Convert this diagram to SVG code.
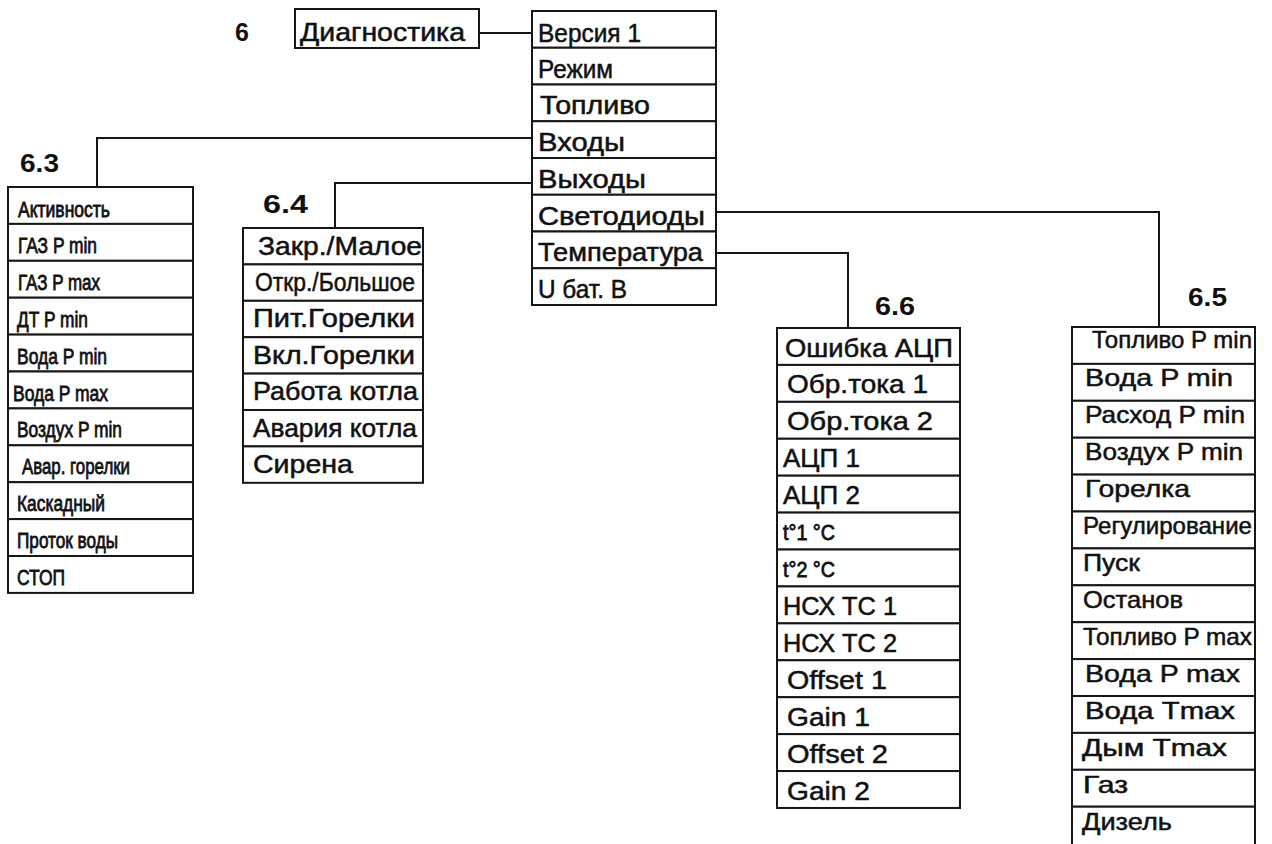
<svg xmlns="http://www.w3.org/2000/svg" width="1272" height="844" viewBox="0 0 1272 844">
<style>
.bg{fill:#fff}
.r{fill:#fff;stroke:#161616;stroke-width:2}
.c{fill:none;stroke:#161616;stroke-width:2}
text{font-family:"Liberation Sans",Arial,sans-serif;fill:#111;stroke:#111;stroke-width:0.5}
.m{font-size:25px}
.n{font-size:22px;stroke-width:0.8}
.s{font-size:24px}
.lbl{font-size:25px;font-weight:bold;stroke:none}
</style>
<rect class="bg" x="0" y="0" width="1272" height="844"/>

<g id="connectors">
<path class="c" d="M479,33 H532"/>
<path class="c" d="M532,138 H97 V187"/>
<path class="c" d="M532,183 H335 V228"/>
<path class="c" d="M716,212 H1159 V327"/>
<path class="c" d="M716,253 H848 V328"/>
</g>

<g id="label-6"><text class="lbl" x="235" y="41">6</text></g>
<g id="label-6.3"><text class="lbl" x="20" y="172" textLength="39" lengthAdjust="spacingAndGlyphs">6.3</text></g>
<g id="label-6.4"><text class="lbl" x="263" y="213" textLength="45" lengthAdjust="spacingAndGlyphs">6.4</text></g>
<g id="label-6.6"><text class="lbl" x="875" y="315" textLength="40" lengthAdjust="spacingAndGlyphs">6.6</text></g>
<g id="label-6.5"><text class="lbl" x="1188" y="306" textLength="39" lengthAdjust="spacingAndGlyphs">6.5</text></g>

<g id="node-diag">
<rect class="r" x="295" y="9" width="184" height="39"/>
<text class="m" x="300" y="41" textLength="165" lengthAdjust="spacingAndGlyphs">Диагностика</text>
</g>

<g id="node-main">
<rect class="r" x="532" y="11" width="184" height="36.75"/>
<rect class="r" x="532" y="47.75" width="184" height="36.75"/>
<rect class="r" x="532" y="84.5" width="184" height="36.75"/>
<rect class="r" x="532" y="121.25" width="184" height="36.75"/>
<rect class="r" x="532" y="158" width="184" height="36.75"/>
<rect class="r" x="532" y="194.75" width="184" height="36.75"/>
<rect class="r" x="532" y="231.5" width="184" height="36.75"/>
<rect class="r" x="532" y="268.25" width="184" height="36.75"/>
<text class="m" x="538" y="42" textLength="103" lengthAdjust="spacingAndGlyphs">Версия 1</text>
<text class="m" x="538" y="77.5" textLength="75" lengthAdjust="spacingAndGlyphs">Режим</text>
<text class="m" x="540" y="114" textLength="110" lengthAdjust="spacingAndGlyphs">Топливо</text>
<text class="m" x="538" y="151" textLength="87" lengthAdjust="spacingAndGlyphs">Входы</text>
<text class="m" x="538" y="188" textLength="108" lengthAdjust="spacingAndGlyphs">Выходы</text>
<text class="m" x="538" y="224.5" textLength="167" lengthAdjust="spacingAndGlyphs">Светодиоды</text>
<text class="m" x="538" y="261" textLength="165" lengthAdjust="spacingAndGlyphs">Температура</text>
<text class="m" x="538" y="298" textLength="89" lengthAdjust="spacingAndGlyphs">U бат. В</text>
</g>

<g id="node-6.3">
<rect class="r" x="8" y="187" width="185" height="36.9"/>
<rect class="r" x="8" y="223.9" width="185" height="36.9"/>
<rect class="r" x="8" y="260.8" width="185" height="36.9"/>
<rect class="r" x="8" y="297.7" width="185" height="36.9"/>
<rect class="r" x="8" y="334.6" width="185" height="36.9"/>
<rect class="r" x="8" y="371.5" width="185" height="36.9"/>
<rect class="r" x="8" y="408.4" width="185" height="36.9"/>
<rect class="r" x="8" y="445.3" width="185" height="36.9"/>
<rect class="r" x="8" y="482.2" width="185" height="36.9"/>
<rect class="r" x="8" y="519.1" width="185" height="36.9"/>
<rect class="r" x="8" y="556" width="185" height="36.9"/>
<text class="n" x="18" y="217" textLength="92" lengthAdjust="spacingAndGlyphs">Активность</text>
<text class="n" x="18" y="253" textLength="79" lengthAdjust="spacingAndGlyphs">ГАЗ P min</text>
<text class="n" x="18" y="290" textLength="82" lengthAdjust="spacingAndGlyphs">ГАЗ P max</text>
<text class="n" x="17" y="327" textLength="71" lengthAdjust="spacingAndGlyphs">ДТ P min</text>
<text class="n" x="17" y="364" textLength="90" lengthAdjust="spacingAndGlyphs">Вода P min</text>
<text class="n" x="13" y="401" textLength="95" lengthAdjust="spacingAndGlyphs">Вода P max</text>
<text class="n" x="17" y="437" textLength="105" lengthAdjust="spacingAndGlyphs">Воздух P min</text>
<text class="n" x="22" y="474" textLength="108" lengthAdjust="spacingAndGlyphs">Авар. горелки</text>
<text class="n" x="17" y="511" textLength="88" lengthAdjust="spacingAndGlyphs">Каскадный</text>
<text class="n" x="17" y="548" textLength="101" lengthAdjust="spacingAndGlyphs">Проток воды</text>
<text class="n" x="17" y="585" textLength="48" lengthAdjust="spacingAndGlyphs">СТОП</text>
</g>

<g id="node-6.4">
<rect class="r" x="243" y="228" width="180" height="36.4"/>
<rect class="r" x="243" y="264.4" width="180" height="36.4"/>
<rect class="r" x="243" y="300.8" width="180" height="36.4"/>
<rect class="r" x="243" y="337.2" width="180" height="36.4"/>
<rect class="r" x="243" y="373.6" width="180" height="36.4"/>
<rect class="r" x="243" y="410" width="180" height="36.4"/>
<rect class="r" x="243" y="446.4" width="180" height="36.4"/>
<text class="m" x="258" y="255" textLength="164" lengthAdjust="spacingAndGlyphs">Закр./Малое</text>
<text class="m" x="255" y="291" textLength="160" lengthAdjust="spacingAndGlyphs">Откр./Большое</text>
<text class="m" x="253" y="327" textLength="162" lengthAdjust="spacingAndGlyphs">Пит.Горелки</text>
<text class="m" x="253" y="364" textLength="162" lengthAdjust="spacingAndGlyphs">Вкл.Горелки</text>
<text class="m" x="253" y="400" textLength="165" lengthAdjust="spacingAndGlyphs">Работа котла</text>
<text class="m" x="253" y="437" textLength="164" lengthAdjust="spacingAndGlyphs">Авария котла</text>
<text class="m" x="253" y="473" textLength="100" lengthAdjust="spacingAndGlyphs">Сирена</text>
</g>

<g id="node-6.6">
<rect class="r" x="777" y="328" width="183" height="36.92"/>
<rect class="r" x="777" y="364.92" width="183" height="36.92"/>
<rect class="r" x="777" y="401.84" width="183" height="36.92"/>
<rect class="r" x="777" y="438.76" width="183" height="36.92"/>
<rect class="r" x="777" y="475.68" width="183" height="36.92"/>
<rect class="r" x="777" y="512.6" width="183" height="36.92"/>
<rect class="r" x="777" y="549.52" width="183" height="36.92"/>
<rect class="r" x="777" y="586.44" width="183" height="36.92"/>
<rect class="r" x="777" y="623.36" width="183" height="36.92"/>
<rect class="r" x="777" y="660.28" width="183" height="36.92"/>
<rect class="r" x="777" y="697.2" width="183" height="36.92"/>
<rect class="r" x="777" y="734.12" width="183" height="36.92"/>
<rect class="r" x="777" y="771.04" width="183" height="36.92"/>
<text class="m" x="785" y="357" textLength="168" lengthAdjust="spacingAndGlyphs">Ошибка АЦП</text>
<text class="m" x="787" y="393" textLength="141" lengthAdjust="spacingAndGlyphs">Обр.тока 1</text>
<text class="m" x="787" y="430" textLength="146" lengthAdjust="spacingAndGlyphs">Обр.тока 2</text>
<text class="m" x="783" y="467" textLength="77" lengthAdjust="spacingAndGlyphs">АЦП 1</text>
<text class="m" x="783" y="504" textLength="77" lengthAdjust="spacingAndGlyphs">АЦП 2</text>
<text class="n" x="783" y="540" textLength="52" lengthAdjust="spacingAndGlyphs">t°1 °C</text>
<text class="n" x="783" y="577" textLength="52" lengthAdjust="spacingAndGlyphs">t°2 °C</text>
<text class="m" x="783" y="615" textLength="114" lengthAdjust="spacingAndGlyphs">НСХ ТС 1</text>
<text class="m" x="783" y="652" textLength="114" lengthAdjust="spacingAndGlyphs">НСХ ТС 2</text>
<text class="m" x="787" y="689" textLength="100" lengthAdjust="spacingAndGlyphs">Offset 1</text>
<text class="m" x="787" y="726" textLength="83" lengthAdjust="spacingAndGlyphs">Gain 1</text>
<text class="m" x="787" y="763" textLength="101" lengthAdjust="spacingAndGlyphs">Offset 2</text>
<text class="m" x="787" y="800" textLength="83" lengthAdjust="spacingAndGlyphs">Gain 2</text>
</g>

<g id="node-6.5">
<rect class="r" x="1072" y="327" width="183" height="36.9"/>
<rect class="r" x="1072" y="363.9" width="183" height="36.9"/>
<rect class="r" x="1072" y="400.8" width="183" height="36.9"/>
<rect class="r" x="1072" y="437.7" width="183" height="36.9"/>
<rect class="r" x="1072" y="474.6" width="183" height="36.9"/>
<rect class="r" x="1072" y="511.5" width="183" height="36.9"/>
<rect class="r" x="1072" y="548.4" width="183" height="36.9"/>
<rect class="r" x="1072" y="585.3" width="183" height="36.9"/>
<rect class="r" x="1072" y="622.2" width="183" height="36.9"/>
<rect class="r" x="1072" y="659.1" width="183" height="36.9"/>
<rect class="r" x="1072" y="696" width="183" height="36.9"/>
<rect class="r" x="1072" y="732.9" width="183" height="36.9"/>
<rect class="r" x="1072" y="769.8" width="183" height="36.9"/>
<rect class="r" x="1072" y="806.7" width="183" height="40"/>
<text class="s" x="1092" y="348" textLength="160" lengthAdjust="spacingAndGlyphs">Топливо P min</text>
<text class="s" x="1085" y="386" textLength="148" lengthAdjust="spacingAndGlyphs">Вода P min</text>
<text class="s" x="1085" y="423" textLength="160" lengthAdjust="spacingAndGlyphs">Расход P min</text>
<text class="s" x="1085" y="460" textLength="158" lengthAdjust="spacingAndGlyphs">Воздух P min</text>
<text class="s" x="1085" y="497" textLength="105" lengthAdjust="spacingAndGlyphs">Горелка</text>
<text class="s" x="1083" y="534" textLength="169" lengthAdjust="spacingAndGlyphs">Регулирование</text>
<text class="s" x="1083" y="571" textLength="57" lengthAdjust="spacingAndGlyphs">Пуск</text>
<text class="s" x="1083" y="608" textLength="100" lengthAdjust="spacingAndGlyphs">Останов</text>
<text class="s" x="1083" y="645" textLength="169" lengthAdjust="spacingAndGlyphs">Топливо P max</text>
<text class="s" x="1085" y="682" textLength="155" lengthAdjust="spacingAndGlyphs">Вода P max</text>
<text class="s" x="1085" y="719" textLength="150" lengthAdjust="spacingAndGlyphs">Вода Tmax</text>
<text class="s" x="1082" y="756" textLength="145" lengthAdjust="spacingAndGlyphs">Дым Tmax</text>
<text class="s" x="1083" y="793" textLength="45" lengthAdjust="spacingAndGlyphs">Газ</text>
<text class="s" x="1082" y="830" textLength="90" lengthAdjust="spacingAndGlyphs">Дизель</text>
</g>
</svg>
